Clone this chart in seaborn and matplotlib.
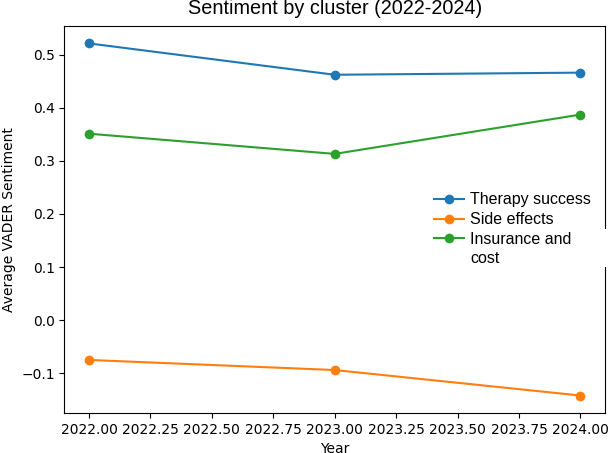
import matplotlib
matplotlib.use("Agg")
import matplotlib.pyplot as plt
from matplotlib.patches import Rectangle
import seaborn as sns
import pandas as pd

# datos
years = [2022, 2023, 2024]
clusters = ["Therapy success", "Side effects", "Insurance and"]
therapy = [0.521, 0.462, 0.466]
side_effects = [-0.075, -0.094, -0.142]
insurance = [0.351, 0.313, 0.387]
colors = ["#1f77b4", "#ff7f0e", "#2ca02c"]

df = pd.DataFrame({
    "Year": years * 3,
    "sentiment": therapy + side_effects + insurance,
    "cluster": [c for c in clusters for _ in years],
})

fig = plt.figure(figsize=(6.08, 4.53), dpi=100)
ax = fig.add_axes([0.106, 0.088, 0.889, 0.855])

for name, col in zip(clusters, colors):
    sub = df[df["cluster"] == name]
    sns.lineplot(data=sub, x="Year", y="sentiment", marker="o", color=col,
                 label=name, markersize=7, markeredgewidth=0, linewidth=1.5, ax=ax)

ax.set_xlabel("Year")
ax.set_ylabel("Average VADER Sentiment")
ax.set_title("Sentiment by cluster (2022-2024)", fontfamily="Liberation Sans",
             fontsize=14.3, pad=8.5)

leg = ax.legend(loc="upper left", bbox_to_anchor=(0.657, 0.607), frameon=False,
                prop={"family": "Liberation Sans", "size": 11.5}, labelspacing=0.3,
                handlelength=1.9, handletextpad=0.35)

# la etiqueta del tercer grupo continua en una segunda linea
fig.canvas.draw()
bb = leg.get_texts()[2].get_window_extent()
x0, y0 = fig.transFigure.inverted().transform((bb.x0, bb.y0 - 4))
fig.text(x0, y0, "cost", family="Liberation Sans", fontsize=11.5, va="top")

# recuadro blanco del texto de la leyenda que tapa el borde derecho
fig.patches.append(Rectangle((590 / 608, 1 - 267 / 453), 18 / 608, 38 / 453,
                             transform=fig.transFigure, facecolor="white",
                             edgecolor="none", zorder=5))

fig.savefig("out.png", dpi=100)
